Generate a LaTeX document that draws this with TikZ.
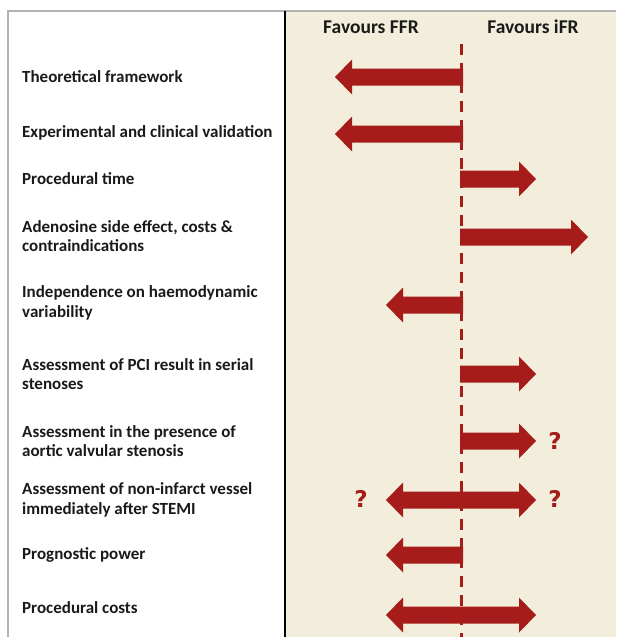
\documentclass[tikz,border=0pt]{standalone}
\usepackage{fontspec}
\setmainfont{Carlito}
\newfontfamily\qfont{DejaVu Sans}
\definecolor{arrred}{HTML}{A61C1A}
\definecolor{beige}{HTML}{F3EEDC}
\definecolor{txt}{HTML}{1A1A1A}
\newcommand{\arrL}[3]{% y, xstart(right end), xtip(left)
  \fill[arrred] (#2,#1-8.5) -- (#3+17,#1-8.5) -- (#3+17,#1-17.5) -- (#3,#1) -- (#3+17,#1+17.5) -- (#3+17,#1+8.5) -- (#2,#1+8.5) -- cycle;}
\newcommand{\arrR}[3]{% y, xstart(left end), xtip(right)
  \fill[arrred] (#2,#1-8.5) -- (#3-17,#1-8.5) -- (#3-17,#1-17.5) -- (#3,#1) -- (#3-17,#1+17.5) -- (#3-17,#1+8.5) -- (#2,#1+8.5) -- cycle;}
\newcommand{\arrD}[3]{% y, xtip left, xtip right
  \fill[arrred] (#2,#1) -- (#2+17,#1-17.5) -- (#2+17,#1-8.5) -- (#3-17,#1-8.5) -- (#3-17,#1-17.5) -- (#3,#1) -- (#3-17,#1+17.5) -- (#3-17,#1+8.5) -- (#2+17,#1+8.5) -- (#2+17,#1+17.5) -- cycle;}
\begin{document}
\begin{tikzpicture}[x=1pt,y=-1pt,
  lbl/.style={anchor=west,align=left,font=\fontsize{17}{19.5}\selectfont\bfseries,text=txt,inner sep=0pt},
  hdr/.style={font=\fontsize{19.5}{22}\selectfont\bfseries,text=txt,inner sep=0pt},
  qm/.style={font=\qfont\fontsize{23}{25}\selectfont\bfseries,text=arrred,inner sep=0pt}]
\useasboundingbox (0,0) rectangle (616,637);
\fill[white] (0,0) rectangle (616,637);
\fill[beige] (285,11) rectangle (616,637);
\draw[gray!60,line width=1.2] (8,637) -- (8,11) -- (616,11);
\draw[black,line width=2.2] (285,11) -- (285,637);
\draw[arrred,line width=3,dash pattern=on 11 off 8] (461,44) -- (461,637);
\node[hdr] (hffr) at (371,27) {Favours FFR};
\node[hdr] (hifr) at (533,27) {Favours iFR};
\node[lbl] (l1) at (22,77) {Theoretical framework};
\node[lbl] (l2) at (22,133) {Experimental and clinical validation};
\node[lbl] (l3) at (22,179) {Procedural time};
\node[lbl] (l4) at (22,236) {Adenosine side effect, costs \&\\contraindications};
\node[lbl] (l5) at (22,303) {Independence on haemodynamic\\variability};
\node[lbl] (l6) at (22,374) {Assessment of PCI result in serial\\stenoses};
\node[lbl] (l7) at (22,441) {Assessment in the presence of\\aortic valvular stenosis};
\node[lbl] (l8) at (22,500) {Assessment of non-infarct vessel\\immediately after STEMI};
\node[lbl] (l9) at (22,555) {Prognostic power};
\node[lbl] (l10) at (22,608) {Procedural costs};
\arrL{77}{463}{335}
\arrL{134}{463}{335}
\arrR{179}{460}{536}
\arrR{237}{460}{588}
\arrL{305}{463}{386}
\arrR{374}{460}{536}
\arrR{441}{460}{536}
\arrD{500}{386}{536}
\arrL{555}{463}{386}
\arrD{615}{386}{536}
\node[qm] (q1) at (555,441) {?};
\node[qm] (q2) at (555,499) {?};
\node[qm] (q3) at (361,499) {?};
\end{tikzpicture}
\end{document}
